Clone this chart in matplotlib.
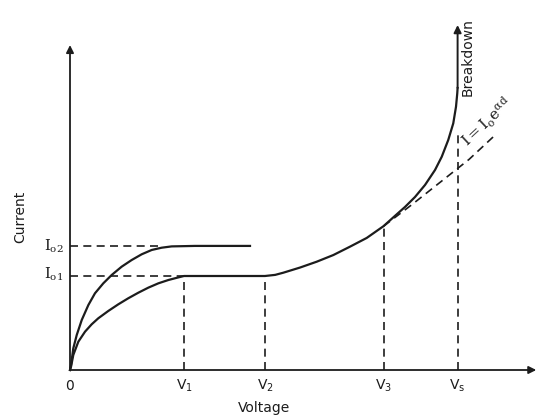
import numpy as np
import matplotlib
matplotlib.use("Agg")
import matplotlib.pyplot as plt

# voltage marks (x units) and saturation currents (y units)
v_labels = ["0", "V_1", "V_2", "V_3", "V_s"]
v_marks = [0.0, 1.0, 1.71, 2.75, 3.40]
io1 = 1.0
io2 = 1.32

# lower curve: saturation to Io1, plateau, then exponential rise to breakdown
low_v = [0.0, 0.009, 0.029, 0.073, 0.132, 0.190, 0.248, 0.336, 0.424, 0.511,
         0.599, 0.687, 0.775, 0.862, 0.950, 1.0,
         1.71, 1.80, 1.871, 2.018, 2.164, 2.310, 2.456, 2.603, 2.75,
         2.851, 2.939, 3.026, 3.114, 3.202, 3.261, 3.318, 3.362, 3.386, 3.397, 3.40]
low_i = [0.0, 0.035, 0.160, 0.301, 0.408, 0.486, 0.550, 0.628, 0.699, 0.763,
         0.822, 0.876, 0.922, 0.957, 0.985, 1.0,
         1.0, 1.012, 1.035, 1.090, 1.152, 1.223, 1.312, 1.405, 1.53,
         1.64, 1.735, 1.84, 1.968, 2.128, 2.269, 2.447, 2.624, 2.801, 2.943, 3.0]

# upper curve: saturation to Io2
up_v = [0.0, 0.009, 0.029, 0.059, 0.103, 0.161, 0.219, 0.292, 0.366, 0.453,
        0.541, 0.629, 0.717, 0.804, 0.892, 1.096, 1.579]
up_i = [0.0, 0.053, 0.231, 0.372, 0.532, 0.691, 0.816, 0.922, 1.011, 1.099,
        1.170, 1.231, 1.277, 1.301, 1.315, 1.32, 1.32]

# I = Io exp(alpha d) continuation (dashed)
exp_v = [2.75, 3.0, 3.25, 3.5, 3.73]
exp_i = [1.53, 1.76, 2.0, 2.24, 2.50]

# heights where the vertical dashed guides stop
guide_top = [1.0, 1.0, 1.53, 2.55]

ink = "#1c1c1c"
dash = (0, (4.8, 3.2))

fig = plt.figure(figsize=(5.4, 4.18), dpi=100)
ax = fig.add_axes([0, 0, 1, 1])
ax.set_xlim(-70 / 114, 470 / 114)
ax.set_ylim(-48 / 94, 370 / 94)
ax.axis("off")

# axes with arrows
arw = dict(arrowstyle="-|>", color=ink, lw=1.3, mutation_scale=11, shrinkA=0, shrinkB=0)
ax.annotate("", xy=(0, 3.457), xytext=(0, 0), arrowprops=arw)
ax.annotate("", xy=(4.09, 0), xytext=(0, 0), arrowprops=arw)

# curves
ax.plot(low_v, low_i, color=ink, lw=1.6, solid_joinstyle="round")
ax.plot(up_v, up_i, color=ink, lw=1.6, solid_joinstyle="round")
ax.annotate("", xy=(low_v[-1], 3.67), xytext=(low_v[-1], low_i[-1]), arrowprops=dict(arw, lw=1.4))
ax.plot(exp_v, exp_i, color=ink, lw=1.2, linestyle=dash)

# dashed guides
for v, top in zip(v_marks[1:], guide_top):
    ax.plot([v, v], [0, top], color=ink, lw=1.2, linestyle=dash)
ax.plot([0, 1.0], [io1, io1], color=ink, lw=1.2, linestyle=dash)
ax.plot([0, 0.82], [io2, io2], color=ink, lw=1.2, linestyle=dash)

# labels
for v, lab in zip(v_marks, v_labels):
    ax.text(v, -0.17, r"$\mathregular{%s}$" % lab, ha="center", va="center",
            fontsize=10, color=ink)
ax.text(1.70, -0.40, "Voltage", ha="center", va="center", fontsize=10, color=ink)
ax.text(-0.44, 1.63, "Current", ha="center", va="center", rotation=90, fontsize=10, color=ink)
ax.text(-0.06, io2, r"$\mathregular{I_{o2}}$", ha="right", va="center", fontsize=10.5,
        color=ink, family="DejaVu Serif")
ax.text(-0.06, io1 + 0.02, r"$\mathregular{I_{o1}}$", ha="right", va="center", fontsize=10.5,
        color=ink, family="DejaVu Serif")
ax.text(3.49, 3.33, "Breakdown", ha="center", va="center", rotation=90, fontsize=10, color=ink)
ax.text(3.66, 2.64, r"$\mathregular{I=I_o e^{\alpha d}}$", ha="center", va="center",
        rotation=43, fontsize=11, color=ink, family="DejaVu Serif", rotation_mode="anchor")

fig.savefig("out.png", dpi=100, facecolor="white")
